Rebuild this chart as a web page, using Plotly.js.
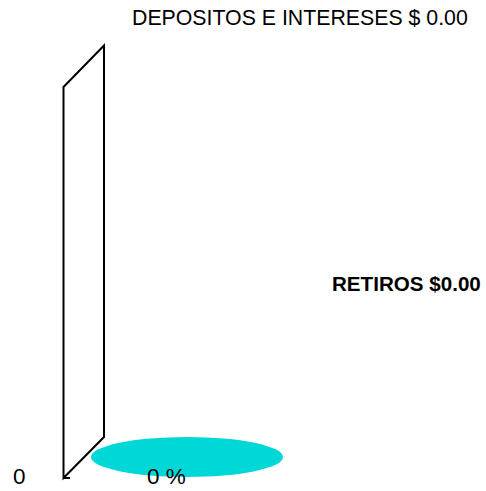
<!DOCTYPE html>
<html>
<head>
<meta charset="utf-8">
<script src="https://cdn.plot.ly/plotly-3.0.1.min.js"></script>
<style>html,body{margin:0;padding:0;background:#fff;}#chart{width:486px;height:491px;}</style>
</head>
<body>
<div id="chart"></div>
<script>
// Data
const categories = ["DEPOSITOS E INTERESES", "RETIROS"];
const amounts = [0, 0];
const percentValues = [0];
const axisTickLabels = ["0"];

const W = 486, H = 491;
const total = amounts.reduce((a, b) => a + b, 0);
const pct = total > 0 ? Math.round(amounts[0] / total * 100) : percentValues[0];

const depLabel = categories[0] + " $ " + amounts[0].toFixed(2);
const retLabel = categories[1] + " $" + amounts[1].toFixed(2);

const font = "Liberation Sans, Arial, sans-serif";

const layout = {
  width: W, height: H,
  margin: {l: 0, r: 0, t: 0, b: 0},
  paper_bgcolor: "#ffffff",
  plot_bgcolor: "#ffffff",
  showlegend: false,
  xaxis: {range: [0, W], visible: false, fixedrange: true},
  yaxis: {range: [H, 0], visible: false, fixedrange: true},
  shapes: [
    // back wall (3D frame)
    {type: "path", xref: "x", yref: "y",
     path: "M63.5,87 L104,45.5 L104,437 L63.5,478 Z",
     line: {color: "#000", width: 2}, fillcolor: "rgba(255,255,255,0)"},
    // small tick at axis origin
    {type: "line", xref: "x", yref: "y", x0: 63.5, y0: 478, x1: 70, y1: 478,
     line: {color: "#000", width: 2}},
    // floor / pie disc
    {type: "circle", xref: "x", yref: "y", x0: 91, y0: 437, x1: 283, y1: 477,
     fillcolor: "#00D8D8", line: {width: 0}}
  ],
  annotations: [
    {text: depLabel, xref: "x", yref: "y", x: 299.5, y: 18, showarrow: false,
     xanchor: "center", yanchor: "middle", font: {family: font, size: 21.3, color: "#000"}},
    {text: "<b>" + retLabel + "</b>", xref: "x", yref: "y", x: 406.5, y: 283, showarrow: false,
     xanchor: "center", yanchor: "middle", font: {family: font, size: 20.6, color: "#000"}},
    {text: pct + " %", xref: "x", yref: "y", x: 166, y: 476, showarrow: false, borderpad: 0,
     xanchor: "center", yanchor: "middle", font: {family: font, size: 22.5, color: "#000"}},
    {text: axisTickLabels[0], xref: "x", yref: "y", x: 19.5, y: 476, showarrow: false, borderpad: 0,
     xanchor: "center", yanchor: "middle", font: {family: font, size: 22.5, color: "#000"}}
  ]
};

const data = [{type: "scatter", x: [], y: [], hoverinfo: "skip"}];

Plotly.newPlot("chart", data, layout, {staticPlot: true, displayModeBar: false});
</script>
</body>
</html>
